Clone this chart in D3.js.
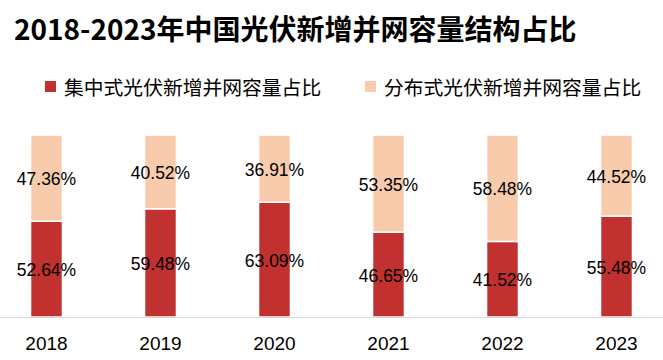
<!DOCTYPE html>
<html><head><meta charset="utf-8">
<script src="https://cdn.jsdelivr.net/npm/d3@7/dist/d3.min.js"></script>
<style>body{margin:0;background:#fff}svg{display:block}</style>
</head><body>
<svg id="c" width="663" height="360"></svg>
<script>
const categories = ["2018","2019","2020","2021","2022","2023"];
const centralized = [52.64, 59.48, 63.09, 46.65, 41.52, 55.48];
const distributed = [47.36, 40.52, 36.91, 53.35, 58.48, 44.52];
const seriesNames = ["集中式光伏新增并网容量占比", "分布式光伏新增并网容量占比"];
const colors = ["#C0312F", "#F8CBAD"];
const title = "2018-2023年中国光伏新增并网容量结构占比";

const svg = d3.select("#c");
const cjk = "'Noto Sans CJK SC', 'Noto Sans', sans-serif";
const num = "'Liberation Sans', Arial, sans-serif";

svg.append("text").attr("x", 14).attr("y", 40)
  .attr("font-family", cjk).attr("font-weight", 700).attr("font-size", 28)
  .attr("fill", "#000").text(title);

// legend
const legX = [45, 365];
seriesNames.forEach((n, i) => {
  svg.append("rect").attr("x", legX[i]).attr("y", 81).attr("width", 11).attr("height", 11).attr("fill", colors[i]);
  svg.append("text").attr("x", legX[i] + 19).attr("y", 94.5)
    .attr("font-family", cjk).attr("font-size", 19.8).attr("fill", "#000").text(n);
});

const x = d3.scaleBand().domain(categories).range([-10.5, 673.5]).paddingInner(0.72).paddingOuter(0.36);
const y = d3.scaleLinear().domain([0, 100]).range([317, 135]);

const rows = categories.map((c, i) => ({c, a: centralized[i], b: distributed[i]}));
const stack = d3.stack().keys(["a", "b"])(rows);

stack.forEach((layer, li) => {
  svg.append("g").selectAll("rect").data(layer).join("rect")
    .attr("x", d => x(d.data.c)).attr("width", x.bandwidth())
    .attr("y", d => y(d[1])).attr("height", d => y(d[0]) - y(d[1]))
    .attr("fill", colors[li]).attr("stroke", "#fff").attr("stroke-width", 1.5);
  svg.append("g").selectAll("text").data(layer).join("text")
    .attr("x", d => x(d.data.c) + x.bandwidth() / 2)
    .attr("y", d => (y(d[0]) + y(d[1])) / 2 + 1)
    .attr("dy", "0.35em").attr("text-anchor", "middle")
    .attr("font-family", num).attr("font-size", 17.5).attr("fill", "#000")
    .text(d => (d[1] - d[0]).toFixed(2) + "%");
});

// axis
const ax = svg.append("g").attr("transform", "translate(0,317)")
  .call(d3.axisBottom(x).tickSize(0).tickPadding(0));
ax.select(".domain").remove();
ax.selectAll("text").attr("font-family", num).attr("font-size", 19).attr("fill", "#000").attr("dy", null).attr("y", 33);
svg.append("line").attr("x1", 0).attr("x2", 663).attr("y1", 317.5).attr("y2", 317.5).attr("stroke", "#d9d9d9").attr("stroke-width", 1);
</script>
</body></html>
